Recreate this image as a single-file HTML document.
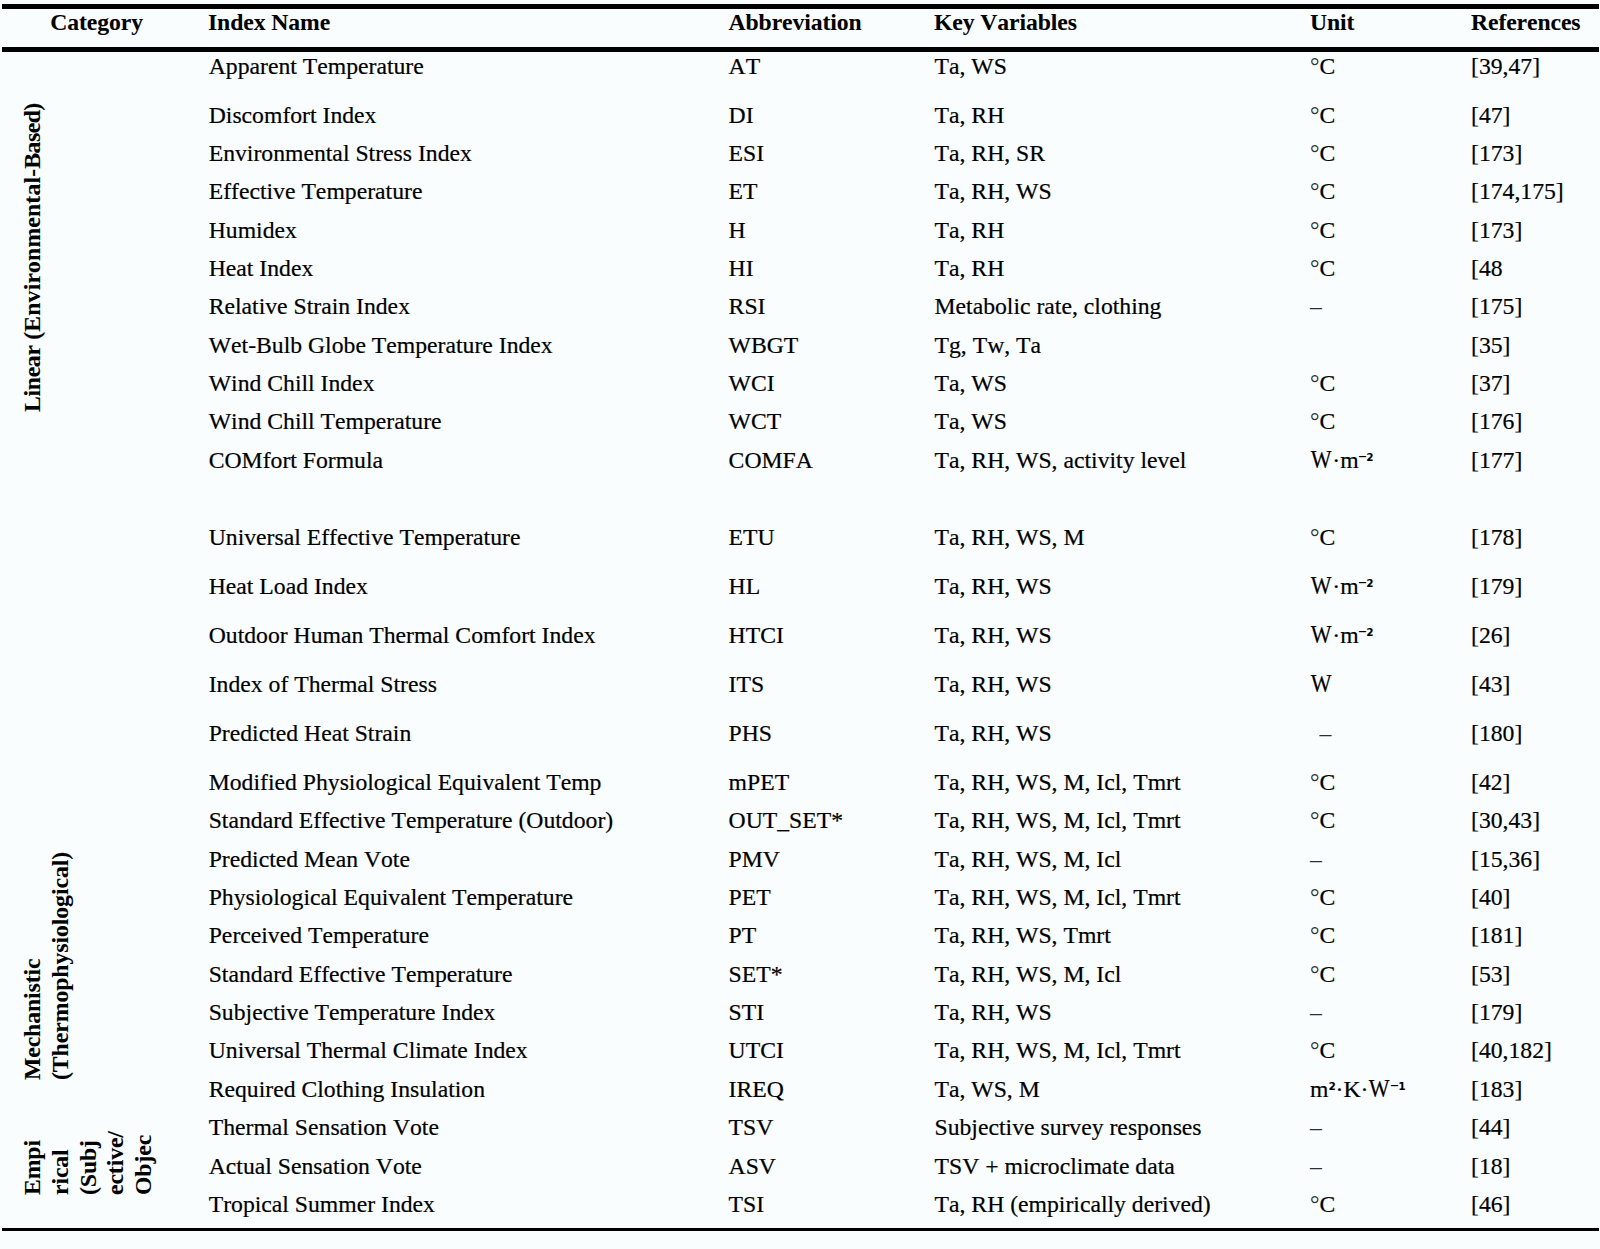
<!DOCTYPE html>
<html lang="en"><head><meta charset="utf-8"><title>Thermal comfort indices</title>
<style>
html,body{margin:0;padding:0;}
body{width:1600px;height:1249px;background:#f9fdfe;position:relative;overflow:hidden;
 font-family:"Liberation Serif",serif;font-size:23.7px;color:#000;font-kerning:none;-webkit-text-stroke:0.2px #000;}
.r{position:absolute;left:0;width:1600px;height:30px;line-height:30px;white-space:nowrap;}
.c{position:absolute;top:0;}
.c1{left:208.7px}.c2{left:728.6px}.c3{left:934.5px}.c4{left:1310px}.c5{left:1471px}
.w{display:inline-block;transform:scale(0.93,1.03);transform-origin:50% 23px;}
.lt{-webkit-text-stroke:0;color:#2a2f32;}
.sp,.sm{-webkit-text-stroke:0;}
.h{font-weight:bold;letter-spacing:-0.1px;-webkit-text-stroke:0.08px #000;}
.sp{font-family:"DejaVu Sans Condensed","DejaVu Sans",sans-serif;font-weight:bold;font-size:18.5px;line-height:0;position:relative;top:-0.5px;margin-right:-0.2px;}
.sm{font-family:"DejaVu Sans","Liberation Sans",sans-serif;font-weight:bold;font-size:18px;line-height:0;position:relative;top:-2.0px;margin-left:-1.0px;margin-right:-0.9px;}
.ln{position:absolute;left:1.8px;width:1597.2px;background:#000;}
.v{position:absolute;white-space:nowrap;font-weight:bold;transform-origin:0 0;transform:rotate(-90deg);line-height:27.5px;letter-spacing:-0.09px;-webkit-text-stroke:0.08px #000;}
</style></head><body>
<div class="ln" style="top:4.2px;height:4.8px"></div>
<div class="ln" style="top:47.1px;height:4.6px"></div>
<div class="ln" style="top:1228px;height:2.8px"></div>

<div class="r h" style="top:7.4px"><span class="c" style="left:50.3px">Category</span><span class="c" style="left:208px">Index Name</span><span class="c" style="left:728.5px">Abbreviation</span><span class="c" style="left:934px">Key Variables</span><span class="c" style="left:1310px">Unit</span><span class="c" style="left:1471px">References</span></div>
<div class="r" style="top:50.55px"><span class="c c1">Apparent Temperature</span><span class="c c2">AT</span><span class="c c3">Ta, WS</span><span class="c c4"><span class="lt">°</span>C</span><span class="c c5">[39,47]</span></div>
<div class="r" style="top:99.55px"><span class="c c1">Discomfort Index</span><span class="c c2">DI</span><span class="c c3">Ta, RH</span><span class="c c4"><span class="lt">°</span>C</span><span class="c c5">[47]</span></div>
<div class="r" style="top:137.55px"><span class="c c1">Environmental Stress Index</span><span class="c c2">ESI</span><span class="c c3">Ta, RH, SR</span><span class="c c4"><span class="lt">°</span>C</span><span class="c c5">[173]</span></div>
<div class="r" style="top:175.55px"><span class="c c1">Effective Temperature</span><span class="c c2">ET</span><span class="c c3">Ta, RH, WS</span><span class="c c4"><span class="lt">°</span>C</span><span class="c c5">[174,175]</span></div>
<div class="r" style="top:214.55px"><span class="c c1">Humidex</span><span class="c c2">H</span><span class="c c3">Ta, RH</span><span class="c c4"><span class="lt">°</span>C</span><span class="c c5">[173]</span></div>
<div class="r" style="top:252.55px"><span class="c c1">Heat Index</span><span class="c c2">HI</span><span class="c c3">Ta, RH</span><span class="c c4"><span class="lt">°</span>C</span><span class="c c5">[48</span></div>
<div class="r" style="top:290.55px"><span class="c c1">Relative Strain Index</span><span class="c c2">RSI</span><span class="c c3">Metabolic rate, clothing</span><span class="c c4"><span class="lt">–</span></span><span class="c c5">[175]</span></div>
<div class="r" style="top:329.55px"><span class="c c1">Wet-Bulb Globe Temperature Index</span><span class="c c2">WBGT</span><span class="c c3">Tg, Tw, Ta</span><span class="c c5">[35]</span></div>
<div class="r" style="top:367.55px"><span class="c c1">Wind Chill Index</span><span class="c c2">WCI</span><span class="c c3">Ta, WS</span><span class="c c4"><span class="lt">°</span>C</span><span class="c c5">[37]</span></div>
<div class="r" style="top:405.55px"><span class="c c1">Wind Chill Temperature</span><span class="c c2">WCT</span><span class="c c3">Ta, WS</span><span class="c c4"><span class="lt">°</span>C</span><span class="c c5">[176]</span></div>
<div class="r" style="top:444.55px"><span class="c c1">COMfort Formula</span><span class="c c2">COMFA</span><span class="c c3">Ta, RH, WS, activity level</span><span class="c c4"><span class="w">W</span>·m<span class="sm">⁻</span><span class="sp">²</span></span><span class="c c5">[177]</span></div>
<div class="r" style="top:521.55px"><span class="c c1">Universal Effective Temperature</span><span class="c c2">ETU</span><span class="c c3">Ta, RH, WS, M</span><span class="c c4"><span class="lt">°</span>C</span><span class="c c5">[178]</span></div>
<div class="r" style="top:570.55px"><span class="c c1">Heat Load Index</span><span class="c c2">HL</span><span class="c c3">Ta, RH, WS</span><span class="c c4"><span class="w">W</span>·m<span class="sm">⁻</span><span class="sp">²</span></span><span class="c c5">[179]</span></div>
<div class="r" style="top:619.55px"><span class="c c1">Outdoor Human Thermal Comfort Index</span><span class="c c2">HTCI</span><span class="c c3">Ta, RH, WS</span><span class="c c4"><span class="w">W</span>·m<span class="sm">⁻</span><span class="sp">²</span></span><span class="c c5">[26]</span></div>
<div class="r" style="top:668.55px"><span class="c c1">Index of Thermal Stress</span><span class="c c2">ITS</span><span class="c c3">Ta, RH, WS</span><span class="c c4"><span class="w">W</span></span><span class="c c5">[43]</span></div>
<div class="r" style="top:717.55px"><span class="c c1">Predicted Heat Strain</span><span class="c c2">PHS</span><span class="c c3">Ta, RH, WS</span><span class="c c4"><span style="padding-left:9.5px"><span class="lt">–</span></span></span><span class="c c5">[180]</span></div>
<div class="r" style="top:766.55px"><span class="c c1">Modified Physiological Equivalent Temp</span><span class="c c2">mPET</span><span class="c c3">Ta, RH, WS, M, Icl, Tmrt</span><span class="c c4"><span class="lt">°</span>C</span><span class="c c5">[42]</span></div>
<div class="r" style="top:804.55px"><span class="c c1">Standard Effective Temperature (Outdoor)</span><span class="c c2">OUT_SET*</span><span class="c c3">Ta, RH, WS, M, Icl, Tmrt</span><span class="c c4"><span class="lt">°</span>C</span><span class="c c5">[30,43]</span></div>
<div class="r" style="top:843.55px"><span class="c c1">Predicted Mean Vote</span><span class="c c2">PMV</span><span class="c c3">Ta, RH, WS, M, Icl</span><span class="c c4"><span class="lt">–</span></span><span class="c c5">[15,36]</span></div>
<div class="r" style="top:881.55px"><span class="c c1">Physiological Equivalent Temperature</span><span class="c c2">PET</span><span class="c c3">Ta, RH, WS, M, Icl, Tmrt</span><span class="c c4"><span class="lt">°</span>C</span><span class="c c5">[40]</span></div>
<div class="r" style="top:919.55px"><span class="c c1">Perceived Temperature</span><span class="c c2">PT</span><span class="c c3">Ta, RH, WS, Tmrt</span><span class="c c4"><span class="lt">°</span>C</span><span class="c c5">[181]</span></div>
<div class="r" style="top:958.55px"><span class="c c1">Standard Effective Temperature</span><span class="c c2">SET*</span><span class="c c3">Ta, RH, WS, M, Icl</span><span class="c c4"><span class="lt">°</span>C</span><span class="c c5">[53]</span></div>
<div class="r" style="top:996.55px"><span class="c c1">Subjective Temperature Index</span><span class="c c2">STI</span><span class="c c3">Ta, RH, WS</span><span class="c c4"><span class="lt">–</span></span><span class="c c5">[179]</span></div>
<div class="r" style="top:1034.55px"><span class="c c1">Universal Thermal Climate Index</span><span class="c c2">UTCI</span><span class="c c3">Ta, RH, WS, M, Icl, Tmrt</span><span class="c c4"><span class="lt">°</span>C</span><span class="c c5">[40,182]</span></div>
<div class="r" style="top:1073.55px"><span class="c c1">Required Clothing Insulation</span><span class="c c2">IREQ</span><span class="c c3">Ta, WS, M</span><span class="c c4">m<span class="sp">²</span>·K·<span class="w">W</span><span class="sm">⁻</span><span class="sp">¹</span></span><span class="c c5">[183]</span></div>
<div class="r" style="top:1111.55px"><span class="c c1">Thermal Sensation Vote</span><span class="c c2">TSV</span><span class="c c3">Subjective survey responses</span><span class="c c4"><span class="lt">–</span></span><span class="c c5">[44]</span></div>
<div class="r" style="top:1150.55px"><span class="c c1">Actual Sensation Vote</span><span class="c c2">ASV</span><span class="c c3">TSV + microclimate data</span><span class="c c4"><span class="lt">–</span></span><span class="c c5">[18]</span></div>
<div class="r" style="top:1188.55px"><span class="c c1">Tropical Summer Index</span><span class="c c2">TSI</span><span class="c c3">Ta, RH (empirically derived)</span><span class="c c4"><span class="lt">°</span>C</span><span class="c c5">[46]</span></div>
<div class="v" id="v1" style="left:19px;top:412px"><span style="letter-spacing:-0.30px">Linear </span><span style="letter-spacing:0.17px">(Environmental-</span><span style="letter-spacing:-0.49px">Based)</span></div>
<div class="v" id="v2" style="left:19px;top:1079.9px">Mechanistic<br><span style="letter-spacing:-0.04px">(Thermophysiological)</span></div>
<div class="v" id="v3" style="left:19px;top:1195px;line-height:27.8px">Empi<br>rical<br>(Subj<br>ective/<br>Objec</div>
</body></html>
